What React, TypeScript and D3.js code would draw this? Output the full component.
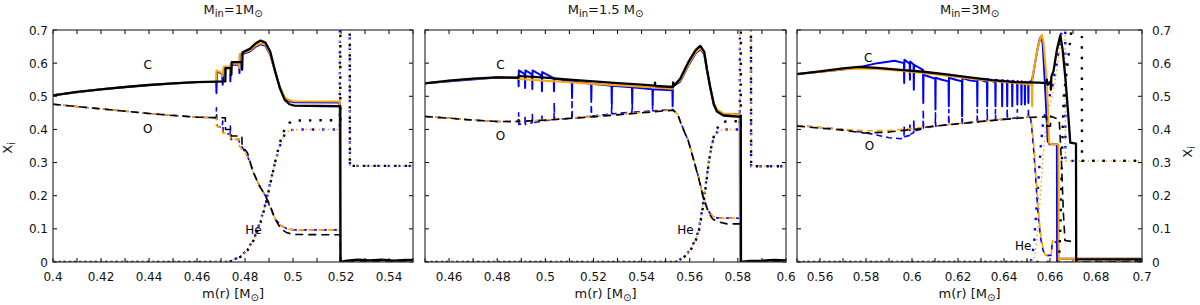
import * as d3 from 'd3';

type Pt = [number, number];

// ---- panel 1: M_in = 1 Msun ----
const c1Black: Pt[] = [[0.4,0.503],[0.41,0.513],[0.42,0.521],[0.43,0.528],[0.44,0.534],[0.45,0.539],[0.46,0.543],[0.4718,0.545],[0.4719,0.585],[0.4742,0.585],[0.4743,0.565],[0.4745,0.603],[0.4787,0.603],[0.4788,0.58],[0.479,0.633],[0.482,0.643],[0.4845,0.66],[0.4865,0.668],[0.4885,0.662],[0.4905,0.635],[0.4925,0.578],[0.4945,0.525],[0.4965,0.49],[0.4985,0.476],[0.5005,0.472],[0.5197,0.47],[0.5198,0],[0.5225,0.004],[0.527,0.007],[0.532,0.005],[0.537,0.007],[0.542,0.004],[0.547,0.006],[0.55,0.006]];
const c1Orange: Pt[] = [[0.4,0.503],[0.42,0.521],[0.44,0.534],[0.46,0.543],[0.468,0.544],[0.4681,0.578],[0.4705,0.57],[0.4706,0.56],[0.4712,0.59],[0.4738,0.59],[0.4739,0.57],[0.474,0.598],[0.4775,0.598],[0.4776,0.585],[0.4778,0.628],[0.482,0.638],[0.4845,0.653],[0.4865,0.66],[0.4885,0.655],[0.4905,0.628],[0.4925,0.575],[0.4945,0.528],[0.4965,0.497],[0.4985,0.488],[0.5005,0.485],[0.5195,0.484],[0.5196,0],[0.53,0.003],[0.55,0.003]];
const c1Blue: Pt[] = [[0.4,0.503],[0.42,0.521],[0.44,0.534],[0.46,0.543],[0.468,0.544],[0.4681,0.51],[0.4683,0.575],[0.4705,0.568],[0.4707,0.535],[0.4712,0.587],[0.4738,0.587],[0.4739,0.545],[0.4741,0.595],[0.4775,0.595],[0.4777,0.57],[0.4779,0.625],[0.482,0.635],[0.4845,0.65],[0.4865,0.657],[0.4885,0.652],[0.4905,0.626],[0.4925,0.574],[0.4945,0.528],[0.4965,0.495],[0.4985,0.485],[0.5005,0.482],[0.5195,0.481],[0.5196,0],[0.53,0.003],[0.55,0.003]];
const o1Black: Pt[] = [[0.4,0.476],[0.41,0.469],[0.42,0.462],[0.43,0.455],[0.44,0.448],[0.45,0.442],[0.46,0.437],[0.4718,0.435],[0.4719,0.4],[0.4742,0.4],[0.4743,0.38],[0.4787,0.38],[0.4788,0.35],[0.481,0.33],[0.4835,0.27],[0.486,0.23],[0.4885,0.2],[0.4905,0.17],[0.4925,0.13],[0.495,0.1],[0.4975,0.088],[0.5005,0.083],[0.5197,0.082],[0.5198,0],[0.55,0.003]];
const o1Orange: Pt[] = [[0.4,0.476],[0.42,0.462],[0.44,0.448],[0.46,0.437],[0.468,0.435],[0.4681,0.41],[0.4705,0.405],[0.4706,0.39],[0.4738,0.385],[0.4739,0.37],[0.4775,0.37],[0.4776,0.35],[0.481,0.32],[0.4835,0.27],[0.486,0.23],[0.4885,0.2],[0.4905,0.165],[0.4925,0.13],[0.495,0.11],[0.4975,0.1],[0.5005,0.097],[0.5195,0.097],[0.5196,0],[0.55,0.002]];
const o1Blue: Pt[] = [[0.4,0.476],[0.42,0.462],[0.44,0.448],[0.46,0.437],[0.468,0.435],[0.4681,0.465],[0.4683,0.41],[0.4705,0.405],[0.4707,0.425],[0.4709,0.39],[0.4738,0.385],[0.4739,0.41],[0.4741,0.37],[0.4775,0.37],[0.4777,0.36],[0.481,0.32],[0.4835,0.27],[0.486,0.23],[0.4885,0.2],[0.4905,0.165],[0.4925,0.13],[0.495,0.11],[0.4975,0.1],[0.5005,0.097],[0.5195,0.097],[0.5196,0],[0.55,0.002]];
const he1Black: Pt[] = [[0.4,0],[0.473,0],[0.4755,0.005],[0.478,0.015],[0.481,0.035],[0.484,0.07],[0.4865,0.12],[0.4885,0.17],[0.4905,0.235],[0.4925,0.3],[0.4945,0.36],[0.4965,0.4],[0.4985,0.42],[0.5005,0.427],[0.5197,0.428],[0.5198,1],[0.5236,1],[0.5237,0.29],[0.55,0.29]];
const he1Orange: Pt[] = [[0.4,0],[0.472,0],[0.475,0.006],[0.478,0.016],[0.481,0.037],[0.484,0.075],[0.4865,0.125],[0.4885,0.175],[0.4905,0.24],[0.4925,0.3],[0.4945,0.35],[0.4965,0.385],[0.4985,0.397],[0.5005,0.4],[0.5195,0.4],[0.5196,1],[0.5236,1],[0.5237,0.29],[0.55,0.29]];
const he1Blue: Pt[] = [[0.4,0],[0.472,0],[0.475,0.006],[0.478,0.016],[0.481,0.037],[0.484,0.075],[0.4865,0.125],[0.4885,0.175],[0.4905,0.24],[0.4925,0.3],[0.4945,0.35],[0.4965,0.385],[0.4985,0.397],[0.5005,0.4],[0.5195,0.4],[0.5196,1],[0.5236,1],[0.5237,0.29],[0.55,0.29]];

// ---- panel 2: M_in = 1.5 Msun ----
const c2Black: Pt[] = [[0.45,0.539],[0.46,0.547],[0.47,0.553],[0.48,0.557],[0.4888,0.556],[0.4889,0.562],[0.49,0.561],[0.5,0.556],[0.51,0.55],[0.52,0.545],[0.53,0.54],[0.54,0.535],[0.5455,0.532],[0.5456,0.541],[0.5457,0.531],[0.553,0.528],[0.5531,0.542],[0.5535,0.532],[0.5561,0.554],[0.5595,0.604],[0.5625,0.64],[0.5644,0.652],[0.566,0.635],[0.5672,0.58],[0.5686,0.524],[0.57,0.475],[0.5713,0.454],[0.574,0.442],[0.5812,0.438],[0.5813,0],[0.585,0.003],[0.59,0.004],[0.595,0.006],[0.6,0.005]];
const c2Orange: Pt[] = [[0.45,0.539],[0.46,0.547],[0.47,0.553],[0.48,0.557],[0.4888,0.556],[0.4889,0.552],[0.5,0.547],[0.51,0.542],[0.52,0.537],[0.53,0.533],[0.54,0.529],[0.553,0.523],[0.5531,0.535],[0.5561,0.548],[0.5595,0.597],[0.5625,0.633],[0.5644,0.645],[0.566,0.63],[0.5672,0.578],[0.5686,0.525],[0.57,0.48],[0.5713,0.46],[0.574,0.448],[0.5808,0.445],[0.5809,0],[0.6,0.003]];
const c2Blue: Pt[] = [[0.45,0.539],[0.48,0.557],[0.4888,0.556],[0.4889,0.53],[0.489,0.578],[0.4915,0.566],[0.4916,0.525],[0.4917,0.578],[0.4945,0.566],[0.4946,0.522],[0.4947,0.578],[0.4985,0.562],[0.4986,0.515],[0.4987,0.573],[0.5035,0.555],[0.5036,0.515],[0.5037,0.553],[0.511,0.545],[0.5111,0.495],[0.5112,0.545],[0.519,0.538],[0.5191,0.49],[0.5192,0.538],[0.5275,0.532],[0.5276,0.478],[0.5277,0.532],[0.536,0.527],[0.5361,0.478],[0.5362,0.527],[0.5445,0.521],[0.5446,0.475],[0.5447,0.521],[0.5528,0.518],[0.5529,0.47],[0.553,0.53],[0.5561,0.545],[0.5595,0.594],[0.5625,0.63],[0.5644,0.642],[0.566,0.627],[0.5672,0.576],[0.5686,0.523],[0.57,0.478],[0.5713,0.458],[0.574,0.447],[0.5808,0.445],[0.5809,0],[0.6,0.003]];
const o2Black: Pt[] = [[0.45,0.439],[0.46,0.434],[0.47,0.428],[0.48,0.424],[0.4888,0.424],[0.4889,0.43],[0.489,0.424],[0.5,0.428],[0.51,0.433],[0.52,0.438],[0.53,0.444],[0.54,0.45],[0.553,0.458],[0.555,0.445],[0.5565,0.415],[0.5595,0.363],[0.5616,0.308],[0.5637,0.253],[0.5658,0.188],[0.5679,0.148],[0.5695,0.13],[0.5713,0.122],[0.5755,0.115],[0.5812,0.115],[0.5813,0],[0.6,0.002]];
const o2Orange: Pt[] = [[0.45,0.439],[0.46,0.434],[0.47,0.428],[0.48,0.424],[0.4888,0.424],[0.5,0.429],[0.51,0.434],[0.52,0.439],[0.53,0.445],[0.54,0.451],[0.553,0.459],[0.555,0.446],[0.5565,0.416],[0.5595,0.364],[0.5616,0.31],[0.5637,0.255],[0.5658,0.192],[0.5679,0.152],[0.5695,0.138],[0.5713,0.133],[0.5808,0.132],[0.5809,0],[0.6,0.002]];
const o2Blue: Pt[] = [[0.45,0.439],[0.46,0.434],[0.47,0.428],[0.48,0.424],[0.4888,0.424],[0.4889,0.45],[0.489,0.415],[0.4915,0.42],[0.4916,0.44],[0.4917,0.415],[0.4945,0.42],[0.4946,0.445],[0.4947,0.42],[0.4985,0.425],[0.4986,0.44],[0.4987,0.425],[0.5036,0.43],[0.5037,0.48],[0.5038,0.43],[0.511,0.434],[0.5111,0.49],[0.5112,0.434],[0.519,0.44],[0.5191,0.49],[0.5192,0.44],[0.5275,0.447],[0.5276,0.48],[0.5277,0.447],[0.536,0.452],[0.5361,0.478],[0.5362,0.452],[0.5445,0.456],[0.5446,0.475],[0.5447,0.456],[0.553,0.46],[0.555,0.446],[0.5565,0.416],[0.5595,0.364],[0.5616,0.31],[0.5637,0.255],[0.5658,0.192],[0.5679,0.152],[0.5695,0.138],[0.5713,0.133],[0.5808,0.132],[0.5809,0],[0.6,0.002]];
const he2Black: Pt[] = [[0.45,0],[0.554,0],[0.5561,0.007],[0.5585,0.02],[0.5603,0.035],[0.5625,0.065],[0.5637,0.09],[0.5651,0.148],[0.5665,0.218],[0.5679,0.298],[0.5692,0.359],[0.5706,0.393],[0.5727,0.419],[0.575,0.424],[0.5812,0.425],[0.5813,1],[0.5854,1],[0.5855,0.289],[0.6,0.289]];
const he2Orange: Pt[] = [[0.45,0],[0.554,0],[0.5561,0.008],[0.5585,0.022],[0.5603,0.038],[0.5625,0.07],[0.5637,0.095],[0.5651,0.155],[0.5665,0.225],[0.5679,0.3],[0.5692,0.355],[0.5706,0.385],[0.572,0.397],[0.575,0.4],[0.5808,0.4],[0.5809,1],[0.5854,1],[0.5855,0.289],[0.6,0.289]];
const he2Blue: Pt[] = [[0.45,0],[0.554,0],[0.5561,0.008],[0.5585,0.022],[0.5603,0.038],[0.5625,0.07],[0.5637,0.095],[0.5651,0.155],[0.5665,0.225],[0.5679,0.3],[0.5692,0.355],[0.5706,0.385],[0.572,0.397],[0.575,0.4],[0.5808,0.4],[0.5809,1],[0.5854,1],[0.5855,0.289],[0.6,0.289]];

// ---- panel 3: M_in = 3 Msun ----
const c3Black: Pt[] = [[0.55,0.567],[0.56,0.575],[0.57,0.584],[0.577,0.589],[0.585,0.586],[0.595,0.58],[0.605,0.574],[0.615,0.566],[0.625,0.557],[0.635,0.549],[0.645,0.543],[0.655,0.541],[0.6585,0.54],[0.6586,0.55],[0.659,0.535],[0.6603,0.545],[0.6604,0.52],[0.6606,0.56],[0.6615,0.575],[0.663,0.64],[0.6645,0.684],[0.6655,0.64],[0.6667,0.554],[0.6681,0.43],[0.6688,0.36],[0.6713,0.357],[0.6714,0],[0.6716,0.008],[0.7,0.008]];
const c3Orange: Pt[] = [[0.55,0.567],[0.56,0.574],[0.57,0.581],[0.577,0.584],[0.585,0.582],[0.595,0.577],[0.605,0.57],[0.615,0.562],[0.625,0.554],[0.635,0.546],[0.645,0.54],[0.6521,0.535],[0.6522,0.47],[0.6524,0.56],[0.6535,0.6],[0.6545,0.64],[0.6558,0.676],[0.6565,0.685],[0.6572,0.66],[0.6587,0.54],[0.6596,0.36],[0.6605,0.355],[0.6637,0.355],[0.6638,0],[0.664,0.01],[0.7,0.01]];
const c3Blue: Pt[] = [[0.55,0.567],[0.57,0.581],[0.577,0.588],[0.585,0.6],[0.5925,0.607],[0.5965,0.6],[0.5966,0.54],[0.5967,0.61],[0.599,0.598],[0.5991,0.55],[0.5992,0.605],[0.6007,0.596],[0.6008,0.52],[0.6009,0.595],[0.6048,0.58],[0.6049,0.48],[0.605,0.565],[0.6101,0.553],[0.6102,0.46],[0.6103,0.556],[0.613,0.55],[0.6159,0.545],[0.616,0.47],[0.6161,0.556],[0.619,0.55],[0.6217,0.545],[0.6218,0.44],[0.6219,0.555],[0.625,0.548],[0.6283,0.545],[0.6284,0.47],[0.6285,0.553],[0.6326,0.543],[0.6327,0.47],[0.6328,0.552],[0.6362,0.542],[0.6363,0.47],[0.6364,0.55],[0.6391,0.542],[0.6392,0.47],[0.6393,0.549],[0.6413,0.541],[0.6414,0.47],[0.6415,0.548],[0.6435,0.54],[0.6436,0.47],[0.6437,0.547],[0.6457,0.539],[0.6458,0.475],[0.6459,0.546],[0.6475,0.538],[0.6476,0.475],[0.6477,0.545],[0.649,0.537],[0.6491,0.475],[0.6492,0.544],[0.6505,0.536],[0.6506,0.48],[0.6507,0.543],[0.6518,0.545],[0.6524,0.555],[0.6535,0.6],[0.6545,0.64],[0.6555,0.672],[0.656,0.68],[0.6568,0.66],[0.6577,0.55],[0.6585,0.44],[0.659,0.365],[0.6598,0.355],[0.663,0.355],[0.6631,0],[0.664,0.01],[0.7,0.01]];
const o3Black: Pt[] = [[0.55,0.41],[0.56,0.404],[0.57,0.398],[0.579,0.389],[0.59,0.392],[0.6,0.4],[0.605,0.402],[0.6051,0.406],[0.61,0.41],[0.62,0.417],[0.63,0.424],[0.64,0.43],[0.65,0.436],[0.6585,0.438],[0.6586,0.41],[0.6602,0.41],[0.6603,0.44],[0.664,0.43],[0.665,0.3],[0.6658,0.15],[0.6665,0.065],[0.6712,0.06],[0.6713,0],[0.7,0.002]];
const o3Orange: Pt[] = [[0.55,0.412],[0.56,0.406],[0.57,0.4],[0.58,0.396],[0.59,0.397],[0.6,0.403],[0.61,0.41],[0.62,0.418],[0.63,0.425],[0.64,0.432],[0.65,0.437],[0.6515,0.438],[0.652,0.42],[0.653,0.35],[0.654,0.25],[0.655,0.15],[0.656,0.08],[0.657,0.04],[0.658,0.02],[0.6605,0.02],[0.661,0.065],[0.6637,0.065],[0.6638,0],[0.7,0.002]];
const o3Blue: Pt[] = [[0.55,0.412],[0.57,0.4],[0.58,0.39],[0.59,0.375],[0.595,0.372],[0.5965,0.375],[0.5966,0.41],[0.5967,0.378],[0.599,0.382],[0.5991,0.42],[0.5992,0.385],[0.6007,0.39],[0.6008,0.43],[0.6009,0.395],[0.6048,0.402],[0.6049,0.46],[0.605,0.404],[0.6101,0.41],[0.6102,0.45],[0.6103,0.41],[0.6159,0.414],[0.616,0.46],[0.6161,0.414],[0.6217,0.418],[0.6218,0.47],[0.6219,0.418],[0.6283,0.423],[0.6284,0.46],[0.6285,0.423],[0.6326,0.426],[0.6327,0.46],[0.6328,0.426],[0.6362,0.428],[0.6363,0.46],[0.6364,0.428],[0.6413,0.432],[0.6414,0.46],[0.6415,0.432],[0.6457,0.435],[0.6458,0.46],[0.6459,0.435],[0.6505,0.437],[0.6506,0.46],[0.6507,0.437],[0.6515,0.437],[0.652,0.41],[0.653,0.33],[0.654,0.23],[0.655,0.13],[0.656,0.07],[0.657,0.035],[0.658,0.02],[0.6605,0.02],[0.661,0.06],[0.663,0.06],[0.6631,0],[0.7,0.002]];
const he3Black: Pt[] = [[0.55,0],[0.6635,0],[0.664,0.02],[0.6645,0.1],[0.665,0.25],[0.6655,0.4],[0.666,0.5],[0.667,0.56],[0.668,0.62],[0.669,0.68],[0.6695,0.72],[0.67,1],[0.6738,1],[0.6739,0.305],[0.7,0.305]];
const he3Orange: Pt[] = [[0.55,0],[0.6515,0],[0.653,0.01],[0.654,0.05],[0.655,0.12],[0.656,0.22],[0.657,0.32],[0.658,0.4],[0.659,0.45],[0.661,0.5],[0.663,0.58],[0.6645,0.66],[0.6655,0.72],[0.6656,1],[0.6666,1],[0.6667,0.305],[0.7,0.305]];
const he3Blue: Pt[] = [[0.55,0],[0.6515,0],[0.652,0.01],[0.653,0.05],[0.654,0.15],[0.655,0.25],[0.656,0.35],[0.657,0.42],[0.659,0.48],[0.661,0.53],[0.663,0.6],[0.6645,0.67],[0.6655,0.72],[0.6656,1],[0.6666,1],[0.6667,0.305],[0.7,0.305]];

const domains: Pt[] = [[0.4, 0.55], [0.45, 0.6], [0.55, 0.7]];
const xLabels1 = [0.4, 0.42, 0.44, 0.46, 0.48, 0.5, 0.52, 0.54];
const xLabels2 = [0.46, 0.48, 0.5, 0.52, 0.54, 0.56, 0.58, 0.6];
const xLabels3 = [0.56, 0.58, 0.6, 0.62, 0.64, 0.66, 0.68, 0.7];
const yTicks = [0, 0.1, 0.2, 0.3, 0.4, 0.5, 0.6, 0.7];
const titleMasses = ['1', '1.5 ', '3'];
const labelPos = [
  { c: [0.4395, 0.595], o: [0.4395, 0.4], he: [0.4835, 0.097] },
  { c: [0.4814, 0.595], o: [0.4814, 0.38], he: [0.5582, 0.097] },
  { c: [0.581, 0.616], o: [0.5815, 0.35], he: [0.6483, 0.047] },
];

const BLACK = '#000';
const ORANGE = '#ffa500';
const BLUE = '#0000ff';
const FONT = 'DejaVu Sans, sans-serif';
const TOP = 30;
const BOTTOM = 262;
const boxes = [
  { left: 53, right: 413 },
  { left: 425, right: 786 },
  { left: 797, right: 1142 },
];

const panels = [
  { c: [c1Blue, c1Orange, c1Black], o: [o1Blue, o1Orange, o1Black], he: [he1Blue, he1Orange, he1Black], labels: xLabels1 },
  { c: [c2Blue, c2Orange, c2Black], o: [o2Blue, o2Orange, o2Black], he: [he2Blue, he2Orange, he2Black], labels: xLabels2 },
  { c: [c3Blue, c3Orange, c3Black], o: [o3Blue, o3Orange, o3Black], he: [he3Blue, he3Orange, he3Black], labels: xLabels3 },
];

const colorOrder = [BLUE, ORANGE, BLACK];

function lineStyle(kind: string, color: string) {
  if (kind === 'c') return { width: color === BLACK ? 2.3 : 2, dash: undefined, cap: 'butt' };
  if (kind === 'o') return { width: 1.6, dash: color === BLACK ? '8,5' : '6,4', cap: 'butt' };
  if (color === ORANGE) return { width: 1.4, dash: '1.5,3', cap: 'butt' };
  return { width: 2.4, dash: '2.4,8', cap: 'butt', offset: color === BLUE ? 5 : 0 };
}

function Panel({ idx }: { idx: number }) {
  const box = boxes[idx];
  const p = panels[idx];
  const x = d3.scaleLinear().domain(domains[idx]).range([box.left, box.right]);
  const y = d3.scaleLinear().domain([0, 0.7]).range([BOTTOM, TOP]);
  const line = d3.line<Pt>().x((d) => x(d[0])).y((d) => y(d[1]));
  const minor = d3.range(Math.round(domains[idx][0] * 100), Math.round(domains[idx][1] * 100) + 1).map((v) => v / 100);
  const cx = (box.left + box.right) / 2;
  const clipId = `clip${idx}`;
  const lp = labelPos[idx];

  const series: { d: Pt[]; kind: string; color: string }[] = [];
  colorOrder.forEach((color, ci) => {
    series.push({ d: p.he[ci], kind: 'he', color });
    series.push({ d: p.o[ci], kind: 'o', color });
    series.push({ d: p.c[ci], kind: 'c', color });
  });

  return (
    <g>
      <defs>
        <clipPath id={clipId}>
          <rect x={box.left} y={TOP} width={box.right - box.left} height={BOTTOM - TOP} />
        </clipPath>
      </defs>
      {/* ticks */}
      {minor.map((v) => (
        <g key={`xt${v}`} stroke={BLACK} strokeWidth={1}>
          <line x1={x(v)} x2={x(v)} y1={BOTTOM} y2={BOTTOM - 4} />
          <line x1={x(v)} x2={x(v)} y1={TOP} y2={TOP + 4} />
        </g>
      ))}
      {yTicks.map((v) => (
        <g key={`yt${v}`} stroke={BLACK} strokeWidth={1}>
          <line x1={box.left} x2={box.left + 4} y1={y(v)} y2={y(v)} />
          <line x1={box.right} x2={box.right - 4} y1={y(v)} y2={y(v)} />
        </g>
      ))}
      <g clipPath={`url(#${clipId})`}>
        {series.map((s, i) => {
          const st = lineStyle(s.kind, s.color);
          return (
            <path
              key={i}
              d={line(s.d) ?? ''}
              fill="none"
              stroke={s.color}
              strokeWidth={st.width}
              strokeDasharray={st.dash}
              strokeDashoffset={(st as any).offset ?? 0}
              strokeLinecap={st.cap as any}
              strokeLinejoin="round"
            />
          );
        })}
      </g>
      <rect x={box.left} y={TOP} width={box.right - box.left} height={BOTTOM - TOP} fill="none" stroke="#333" strokeWidth={1.2} />
      {/* x tick labels */}
      {p.labels.map((v) => (
        <text key={`xl${v}`} x={x(v)} y={281} textAnchor="middle" fontSize={12} fontFamily={FONT} fill="#111">
          {String(+v.toFixed(2))}
        </text>
      ))}
      {/* y tick labels */}
      {idx === 0 &&
        yTicks.map((v) => (
          <text key={`yl${v}`} x={box.left - 5} y={y(v) + 4.5} textAnchor="end" fontSize={12} fontFamily={FONT} fill="#111">
            {String(+v.toFixed(1))}
          </text>
        ))}
      {idx === 2 &&
        yTicks.map((v) => (
          <text key={`yr${v}`} x={box.right + 10} y={y(v) + 4.5} textAnchor="start" fontSize={12} fontFamily={FONT} fill="#111">
            {String(+v.toFixed(1))}
          </text>
        ))}
      {/* species labels */}
      <text x={x(lp.c[0])} y={y(lp.c[1]) + 4} textAnchor="middle" fontSize={12} fontFamily={FONT}>C</text>
      <text x={x(lp.o[0])} y={y(lp.o[1]) + 4} textAnchor="middle" fontSize={12} fontFamily={FONT}>O</text>
      <text x={x(lp.he[0])} y={y(lp.he[1]) + 4} textAnchor="middle" fontSize={12} fontFamily={FONT}>He</text>
      {/* title */}
      <text x={cx} y={14} textAnchor="middle" fontSize={13} fontFamily={FONT} fill="#111">
        M<tspan dy={3} fontSize={10}>in</tspan>
        <tspan dy={-3}>={titleMasses[idx]}M</tspan>
        <tspan dy={3} fontSize={10}>⊙</tspan>
      </text>
      {/* x axis label */}
      <text x={cx} y={298} textAnchor="middle" fontSize={13} fontFamily={FONT} fill="#111">
        m(r) [M<tspan dy={3} fontSize={10}>⊙</tspan>
        <tspan dy={-3}>]</tspan>
      </text>
    </g>
  );
}

export default function App() {
  return (
    <svg
      width={1200}
      height={305}
      viewBox="0 0 1200 305"
      style={{ position: 'absolute', left: 0, top: 0, background: '#fff' }}
    >
      <rect width={1200} height={305} fill="#fff" />
      <Panel idx={0} />
      <Panel idx={1} />
      <Panel idx={2} />
      <text transform="translate(12,148) rotate(-90)" textAnchor="middle" fontSize={13} fontFamily={FONT} fill="#111">
        X<tspan dy={3} fontSize={10}>i</tspan>
      </text>
      <text transform="translate(1192,152) rotate(-90)" textAnchor="middle" fontSize={13} fontFamily={FONT} fill="#111">
        X<tspan dy={3} fontSize={10}>i</tspan>
      </text>
    </svg>
  );
}
